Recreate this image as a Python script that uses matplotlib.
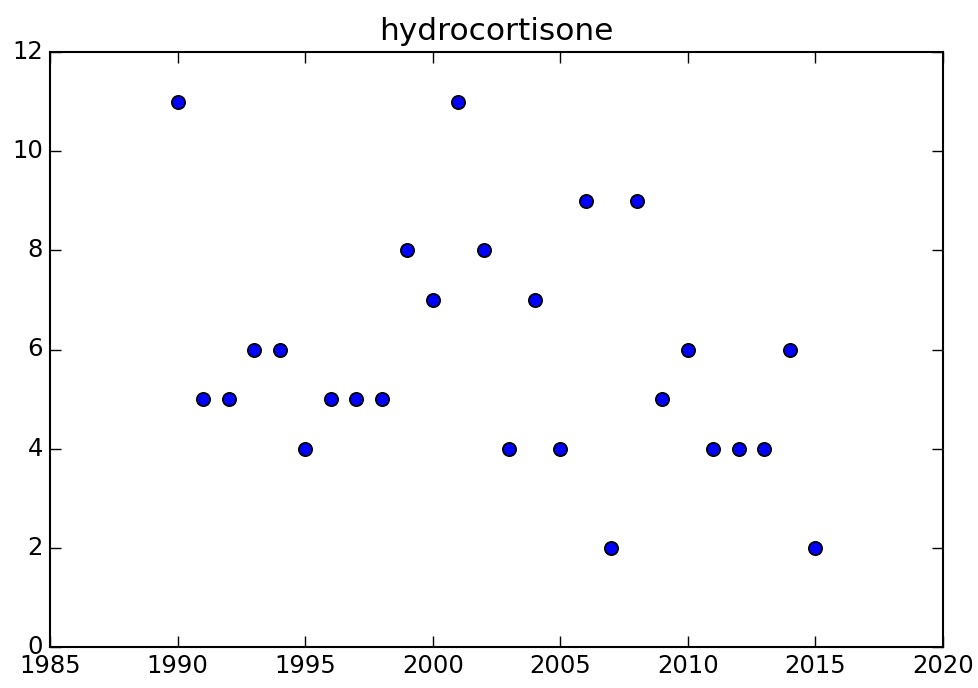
import matplotlib
matplotlib.use("Agg")
import matplotlib.pyplot as plt

years = [1990, 1991, 1992, 1993, 1994, 1995, 1996, 1997, 1998, 1999, 2000, 2001, 2002,
         2003, 2004, 2005, 2006, 2007, 2008, 2009, 2010, 2011, 2012, 2013, 2014, 2015]
counts = [11, 5, 5, 6, 6, 4, 5, 5, 5, 8, 7, 11, 8, 4, 7, 4, 9, 2, 9, 5, 6, 4, 4, 4, 6, 2]
title = "hydrocortisone"

plt.style.use("classic")
fig = plt.figure(figsize=(9.79, 6.88), dpi=100)
fig.patch.set_facecolor("white")
ax = fig.add_axes([50/979, 1 - 647/688, (943-50)/979, (647-52)/688])
ax.plot(years, counts, "o", color="blue", markeredgecolor="black", markersize=9.5, markeredgewidth=1.3)
ax.set_xlim(1985, 2020)
ax.set_ylim(0, 12)
ax.set_xticks(range(1985, 2021, 5))
ax.set_yticks(range(0, 13, 2))
ax.ticklabel_format(useOffset=False, style="plain")
ax.tick_params(labelsize=17.5, length=8, width=1, pad=5)
for s in ax.spines.values():
    s.set_linewidth(1.5)
ax.set_title(title, fontsize=22.5, pad=9)
fig.savefig("out.png", dpi=100, facecolor="white")
